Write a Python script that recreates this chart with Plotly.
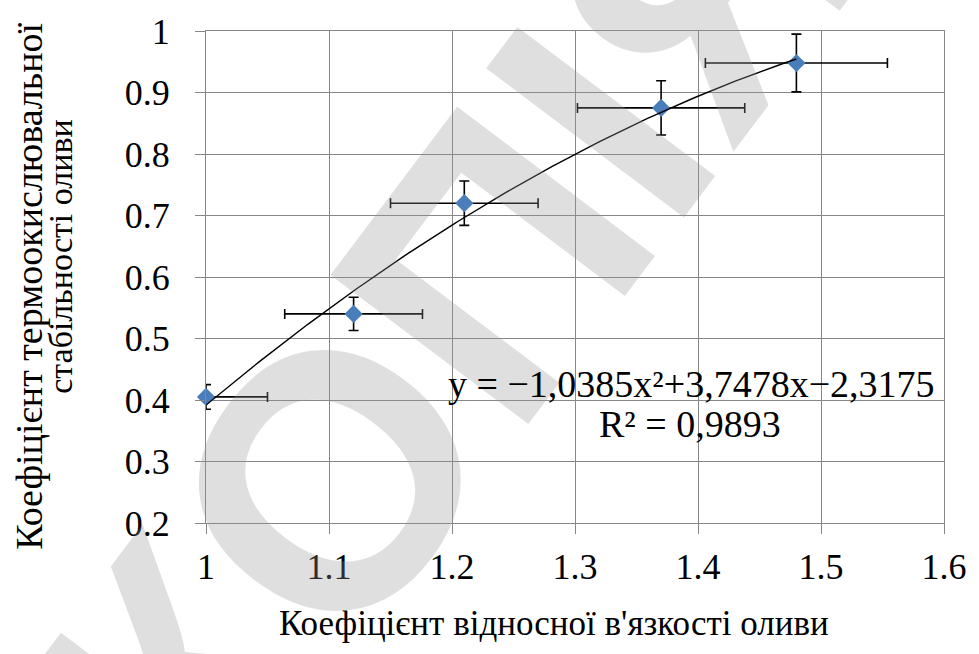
import numpy as np
import plotly.graph_objects as go

# Measured points with their uncertainties
visc_coef = [1.00, 1.12, 1.21, 1.37, 1.48]
stab_coef = [0.405, 0.540, 0.720, 0.875, 0.948]
visc_err = [0.050, 0.056, 0.060, 0.068, 0.074]
stab_err = [0.020, 0.027, 0.036, 0.044, 0.047]

# Polynomial trend (2nd order) coefficients and fit quality
poly_a, poly_b, poly_c = -1.0385, 3.7478, -2.3175
r_squared = 0.9893

x_ticks = [1, 1.1, 1.2, 1.3, 1.4, 1.5, 1.6]
y_ticks = [0.2, 0.3, 0.4, 0.5, 0.6, 0.7, 0.8, 0.9, 1]

FONT = "Liberation Serif"
GRID = "#878787"

trend_x = np.linspace(min(visc_coef), max(visc_coef), 200)
trend_y = poly_a * trend_x**2 + poly_b * trend_x + poly_c

fig = go.Figure()

# error bars (clipped to the plotting area)
fig.add_trace(go.Scatter(
    x=visc_coef, y=stab_coef, mode="markers",
    marker=dict(size=1, color="rgba(0,0,0,0)"),
    error_x=dict(type="data", array=visc_err, color="black", thickness=1.6, width=5),
    error_y=dict(type="data", array=stab_err, color="black", thickness=1.6, width=5),
    cliponaxis=True, hoverinfo="skip", showlegend=False,
))

# data markers
fig.add_trace(go.Scatter(
    x=visc_coef, y=stab_coef, mode="markers",
    marker=dict(symbol="diamond", size=14, color="#4a7ebb", line=dict(width=0)),
    cliponaxis=False, showlegend=False,
))

# trend line
fig.add_trace(go.Scatter(
    x=trend_x, y=trend_y, mode="lines",
    line=dict(color="black", width=1.4),
    showlegend=False, hoverinfo="skip",
))

axis_common = dict(
    showgrid=True, gridcolor=GRID, gridwidth=1.3,
    showline=True, linecolor=GRID, linewidth=1.3, mirror=True,
    ticks="outside", ticklen=10, tickcolor=GRID, tickwidth=1.3,
    tickfont=dict(family=FONT, size=36, color="black"),
    zeroline=False,
)

fig.update_xaxes(range=[1, 1.6], tickvals=x_ticks,
                 ticktext=[f"{v:g}" for v in x_ticks],
                 ticklabelstandoff=2, **axis_common)
fig.update_yaxes(range=[0.2, 1], tickvals=y_ticks,
                 ticktext=[f"{v:g}" for v in y_ticks],
                 ticklabelstandoff=18, **axis_common)

eq_line = f"y = −{abs(poly_a):.4f}x²+{poly_b:.4f}x−{abs(poly_c):.4f}".replace(".", ",")
r2_line = f"R² = {r_squared:.4f}".replace(".", ",")

# white label box behind the trend equation
fig.add_shape(type="rect", xref="paper", yref="paper",
              x0=0.3212, x1=0.9892, y0=0.1403, y1=0.3467,
              fillcolor="white", line=dict(width=0), layer="between")

annotations = [
    # watermark
    dict(text="<b>КОПІЯ</b>", x=0.33, y=0.41, xref="paper", yref="paper",
         showarrow=False, textangle=-53,
         font=dict(family="Liberation Sans", size=360,
                   color="rgba(150,150,150,0.3)"),
         xanchor="center", yanchor="middle"),
    # trend equation
    dict(text=eq_line, x=0.6573, y=0.2826, xref="paper", yref="paper",
         showarrow=False, font=dict(family=FONT, size=38, color="black"),
         xanchor="center", yanchor="middle"),
    dict(text=r2_line, x=0.6560, y=0.2020, xref="paper", yref="paper",
         showarrow=False, font=dict(family=FONT, size=38, color="black"),
         xanchor="center", yanchor="middle"),
    # axis titles
    dict(text="Коефіцієнт відносної в'язкості оливи", x=0.4718, y=-0.2044,
         xref="paper", yref="paper", showarrow=False,
         font=dict(family=FONT, size=35, color="black"),
         xanchor="center", yanchor="middle"),
    dict(text="Коефіцієнт термоокислювальної", x=-0.2392, y=0.481,
         xref="paper", yref="paper", showarrow=False, textangle=-90,
         font=dict(family=FONT, size=38, color="black"),
         xanchor="center", yanchor="middle"),
    dict(text="стабільності оливи", x=-0.1965, y=0.543,
         xref="paper", yref="paper", showarrow=False, textangle=-90,
         font=dict(family=FONT, size=34, color="black"),
         xanchor="center", yanchor="middle"),
]

fig.update_layout(
    width=979, height=654,
    margin=dict(l=206, r=29, t=24, b=131),
    paper_bgcolor="white", plot_bgcolor="white",
    annotations=annotations,
)

fig.write_html("out.html")
